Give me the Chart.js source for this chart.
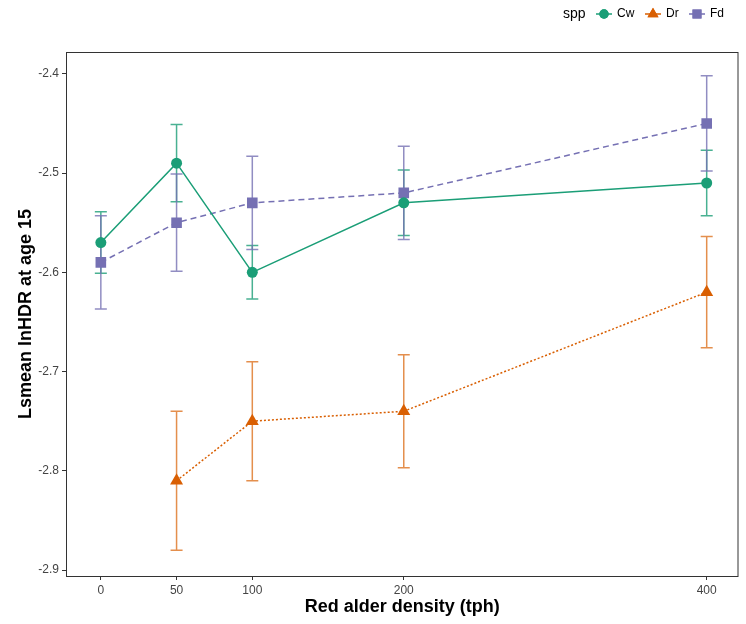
<!DOCTYPE html>
<html lang="en">
<head>
<meta charset="UTF-8">
<title>Lsmean lnHDR at age 15</title>
<script src="https://cdn.jsdelivr.net/npm/chart.js"></script>
<style>
    html, body { margin: 0; padding: 0; background: #fff; }
    canvas { display: block; }
</style>
</head>
<body>
<canvas id="chart" width="746" height="624"></canvas>
<script>
    // data
    const density = [0, 50, 100, 200, 400];
    const xTicks = [0, 50, 100, 200, 400];
    const yTicks = [-2.9, -2.8, -2.7, -2.6, -2.5, -2.4];

    const cwMean = [-2.57, -2.49, -2.60, -2.53, -2.51];
    const cwErr = [0.031, 0.039, 0.027, 0.033, 0.033];
    const drMean = [null, -2.81, -2.75, -2.74, -2.62];
    const drErr = [null, 0.070, 0.060, 0.057, 0.056];
    const fdMean = [-2.59, -2.55, -2.53, -2.52, -2.45];
    const fdErr = [0.047, 0.049, 0.047, 0.047, 0.048];

    const FONT = '"Liberation Sans", Arial, sans-serif';

    function points(means, errs) {
        const out = [];
        density.forEach((d, i) => {
            if (means[i] !== null) out.push({x: d, y: means[i], err: errs[i]});
        });
        return out;
    }

    const series = [
        {label: 'Cw', color: '#1b9e77', bar: 'rgba(27,158,119,0.8)', style: 'circle', radius: 5.5, dash: [], data: points(cwMean, cwErr)},
        {label: 'Dr', color: '#d95f02', bar: 'rgba(217,95,2,0.7)', style: 'triangle', radius: 7.5, dash: [2, 2], data: points(drMean, drErr)},
        {label: 'Fd', color: '#7570b3', bar: 'rgba(117,112,179,0.8)', style: 'rect', radius: 7.5, dash: [6, 4], data: points(fdMean, fdErr)}
    ];

    const errorBars = {
        id: 'errorBars',
        beforeDatasetsDraw(chart) {
            const {ctx, scales: {x, y}} = chart;
            ctx.save();
            ctx.lineWidth = 1.5;
            series.forEach(s => {
                ctx.strokeStyle = s.bar;
                s.data.forEach(p => {
                    const px = x.getPixelForValue(p.x);
                    const top = y.getPixelForValue(p.y + p.err);
                    const bot = y.getPixelForValue(p.y - p.err);
                    ctx.beginPath();
                    ctx.moveTo(px, top); ctx.lineTo(px, bot);
                    ctx.moveTo(px - 6, top); ctx.lineTo(px + 6, top);
                    ctx.moveTo(px - 6, bot); ctx.lineTo(px + 6, bot);
                    ctx.stroke();
                });
            });
            ctx.restore();
        }
    };

    const frameAndLegend = {
        id: 'frameAndLegend',
        afterDraw(chart) {
            const {ctx, chartArea: a} = chart;
            ctx.save();
            ctx.strokeStyle = '#333';
            ctx.lineWidth = 1;
            ctx.strokeRect(a.left + 0.5, a.top + 0.5, a.right - a.left - 1, a.bottom - a.top);

            // legend along the top right
            const cy = 14;
            ctx.fillStyle = '#000';
            ctx.textBaseline = 'middle';
            ctx.font = '14px ' + FONT;
            ctx.fillText('spp', 563, cy);
            const keyX = [604, 653, 697];
            series.forEach((s, i) => {
                const kx = keyX[i];
                ctx.strokeStyle = s.color;
                ctx.lineWidth = 1.5;
                ctx.setLineDash([]);
                ctx.beginPath();
                ctx.moveTo(kx - 8, cy); ctx.lineTo(kx + 8, cy);
                ctx.stroke();
                ctx.fillStyle = s.color;
                Chart.helpers.drawPoint(ctx, {pointStyle: s.style, radius: s.radius * 0.85, borderWidth: 0}, kx, cy);
                ctx.fill();
                ctx.fillStyle = '#000';
                ctx.font = '12px ' + FONT;
                ctx.fillText(s.label, kx + 13, cy);
            });
            ctx.restore();
        }
    };

    new Chart(document.getElementById('chart'), {
        type: 'scatter',
        data: {
            datasets: series.map(s => ({
                label: s.label,
                data: s.data,
                showLine: true,
                borderColor: s.color,
                backgroundColor: s.color,
                borderWidth: 1.5,
                borderDash: s.dash,
                pointStyle: s.style,
                pointRadius: s.radius,
                pointBorderWidth: 0,
                pointBackgroundColor: s.color,
                pointBorderColor: s.color
            }))
        },
        options: {
            responsive: false,
            animation: false,
            layout: {padding: {top: 52, right: 3, left: 0, bottom: 0}},
            plugins: {legend: {display: false}, tooltip: {enabled: false}},
            scales: {
                x: {
                    type: 'linear',
                    min: -23,
                    max: 421,
                    afterBuildTicks: sc => { sc.ticks = xTicks.map(v => ({value: v})); },
                    afterFit: sc => { sc.height = 48; },
                    grid: {drawOnChartArea: false, drawTicks: true, tickLength: 4, color: '#333'},
                    border: {display: false},
                    ticks: {color: '#444', padding: 3, maxRotation: 0, font: {family: FONT, size: 12}},
                    title: {display: true, text: 'Red alder density (tph)', color: '#000',
                        padding: {top: 0, bottom: 6}, font: {family: FONT, size: 18, weight: 'bold'}}
                },
                y: {
                    type: 'linear',
                    min: -2.906,
                    max: -2.378,
                    afterBuildTicks: sc => { sc.ticks = yTicks.map(v => ({value: v})); },
                    afterFit: sc => { sc.width = 66; },
                    grid: {drawOnChartArea: false, drawTicks: true, tickLength: 4, color: '#333'},
                    border: {display: false},
                    ticks: {color: '#444', padding: 3, font: {family: FONT, size: 12},
                        callback: v => v.toFixed(1)},
                    title: {display: true, text: 'Lsmean lnHDR at age 15', color: '#000',
                        padding: {top: 15, bottom: 0}, font: {family: FONT, size: 18, weight: 'bold'}}
                }
            }
        },
        plugins: [errorBars, frameAndLegend]
    });
</script>
</body>
</html>
